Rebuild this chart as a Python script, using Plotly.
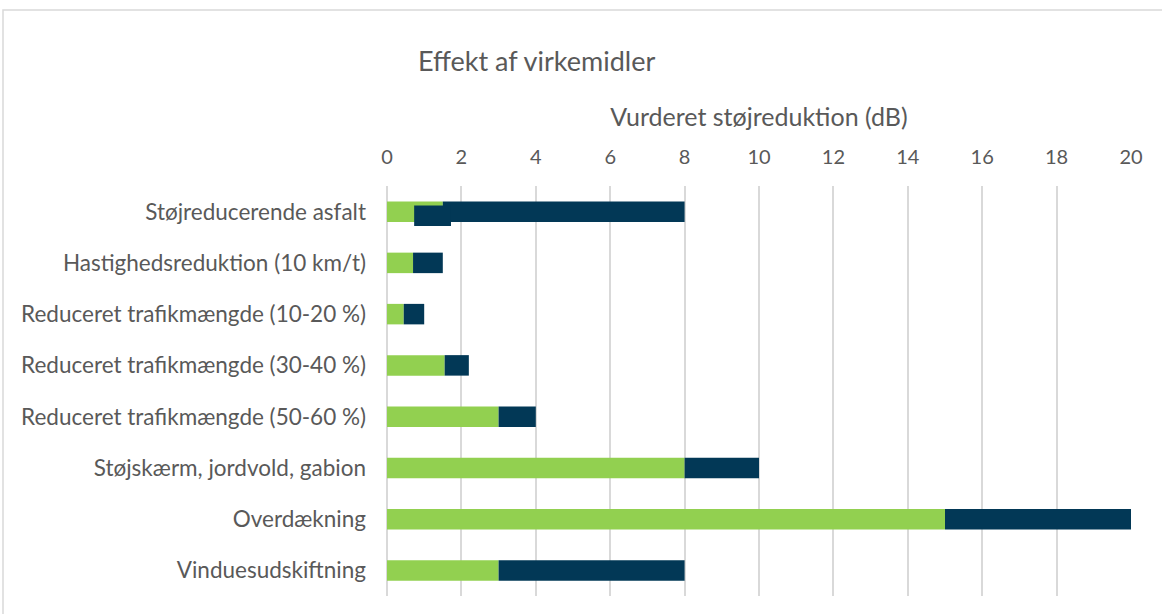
import plotly.graph_objects as go

categories = [
    "Støjreducerende asfalt",
    "Hastighedsreduktion (10 km/t)",
    "Reduceret trafikmængde (10-20 %)",
    "Reduceret trafikmængde (30-40 %)",
    "Reduceret trafikmængde (50-60 %)",
    "Støjskærm, jordvold, gabion",
    "Overdækning",
    "Vinduesudskiftning",
]
low_values = [1.5, 0.7, 0.45, 1.55, 3, 8, 15, 3]
high_values = [8, 1.5, 1.0, 2.2, 4, 10, 20, 8]

# small extra dark block drawn over the first bar in the original
overlay_category = ["Støjreducerende asfalt"]
overlay_start = [0.73]
overlay_end = [1.72]

x_ticks = [0, 2, 4, 6, 8, 10, 12, 14, 16, 18, 20]

GREEN = "#92D050"
NAVY = "#023856"
TEXT = "#595959"
FONT = "Lato"

W, H = 1162, 614
L, R, T, B = 387, 31, 186, 18

fig = go.Figure()
fig.add_trace(go.Bar(
    y=categories, x=low_values, base=[0] * len(low_values),
    orientation="h", marker=dict(color=GREEN, line=dict(width=0)),
    width=0.4, name="Min", showlegend=False,
))
fig.add_trace(go.Bar(
    y=categories, x=[h - l for h, l in zip(high_values, low_values)], base=low_values,
    orientation="h", marker=dict(color=NAVY, line=dict(width=0)),
    width=0.4, name="Max", showlegend=False,
))
fig.add_trace(go.Bar(
    y=overlay_category, x=[e - s for e, s in zip(overlay_end, overlay_start)], base=overlay_start,
    orientation="h", marker=dict(color=NAVY, line=dict(width=0)),
    width=0.4, offset=-0.12, showlegend=False,
))

plot_w = W - L - R
plot_h = H - T - B
fig.update_layout(
    width=W, height=H,
    margin=dict(l=L, r=R, t=T, b=B, pad=0),
    barmode="overlay",
    plot_bgcolor="white", paper_bgcolor="white",
    font=dict(family=FONT, size=21, color=TEXT),
    title=dict(text="Effekt af virkemidler", x=418 / W, xanchor="left",
               y=1 - 62 / H, yanchor="middle",
               font=dict(family=FONT, size=27, color=TEXT)),
    xaxis=dict(
        side="top", range=[0, 20], tickvals=x_ticks,
        showgrid=True, gridcolor="#D9D9D9", gridwidth=1.5,
        zeroline=True, zerolinecolor="#D9D9D9", zerolinewidth=1.5,
        showline=False, ticks="", ticklabelstandoff=17,
        tickfont=dict(size=20, color=TEXT),
        title=dict(text="Vurderet støjreduktion (dB)", standoff=10,
                   font=dict(size=25, color=TEXT)),
        fixedrange=True,
    ),
    yaxis=dict(
        autorange="reversed", showgrid=False, zeroline=False, showline=False,
        ticks="", ticklabelstandoff=20, tickfont=dict(size=22.5, color=TEXT),
        fixedrange=True,
    ),
    shapes=[dict(
        type="rect", xref="paper", yref="paper",
        x0=(3 - L) / plot_w, x1=(W + 20 - L) / plot_w,
        y0=(H - B - (H + 20)) / plot_h, y1=(H - B - 10) / plot_h,
        line=dict(color="#D9D9D9", width=1.5), fillcolor="rgba(0,0,0,0)",
        layer="below",
    )],
)

fig.write_html(
    "out.html",
    config={"displayModeBar": False},
    post_script="document.body.style.margin='0';document.body.style.overflow='hidden';",
)
